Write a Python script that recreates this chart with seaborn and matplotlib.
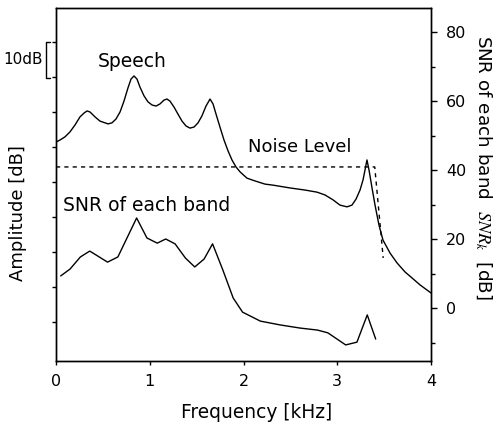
import numpy as np
import pandas as pd
import seaborn as sns
import matplotlib
matplotlib.use("Agg")
import matplotlib.pyplot as plt
from matplotlib.ticker import MultipleLocator

# Speech spectrum envelope (amplitude, left axis, dB)
speech_freq = [0.000, 0.043, 0.096, 0.149, 0.203, 0.256, 0.299, 0.331, 0.363,
               0.416, 0.469, 0.523, 0.555, 0.597, 0.640, 0.683, 0.725, 0.768,
               0.800, 0.832, 0.864, 0.896, 0.939, 0.981, 1.024, 1.067, 1.109,
               1.152, 1.184, 1.216, 1.259, 1.301, 1.344, 1.387, 1.429, 1.472,
               1.515, 1.557, 1.600, 1.643, 1.675, 1.707, 1.749, 1.792, 1.835,
               1.877, 1.920, 1.963, 2.037, 2.123, 2.229, 2.315, 2.496, 2.656,
               2.784, 2.869, 2.955, 3.029, 3.104, 3.157, 3.200, 3.243, 3.275,
               3.296, 3.317, 3.339, 3.371, 3.403, 3.445, 3.488, 3.563, 3.637,
               3.723, 3.797, 3.883, 4.000]
speech_amp = [51.4, 52.0, 52.9, 54.3, 56.3, 58.6, 59.7, 60.3, 60.0,
              58.6, 57.4, 56.9, 56.6, 56.9, 58.0, 60.0, 63.1, 66.9,
              69.4, 70.3, 69.4, 67.1, 64.6, 62.9, 62.0, 61.7, 62.3,
              63.4, 63.7, 63.1, 61.4, 59.4, 57.4, 56.0, 55.4, 55.7,
              56.9, 58.9, 61.7, 63.7, 62.3, 59.4, 55.7, 52.0, 48.9,
              46.3, 44.3, 42.9, 41.1, 40.3, 39.4, 39.1, 38.3, 37.7,
              37.1, 36.3, 34.9, 33.4, 32.9, 33.4, 35.1, 37.7, 40.6,
              43.4, 46.3, 43.4, 38.3, 33.4, 27.7, 23.4, 19.7, 16.9,
              14.3, 12.6, 10.6, 8.3]

# Noise level (left axis, dB)
noise_freq = [0.00, 3.40, 3.49]
noise_amp = [44.3, 44.3, 18.3]

# Band-wise SNR (right axis, dB)
snr_freq = [0.05, 0.15, 0.26, 0.36, 0.55, 0.66, 0.86, 0.97, 1.08, 1.17,
            1.27, 1.38, 1.48, 1.58, 1.67, 1.78, 1.89, 1.99, 2.18, 2.39,
            2.60, 2.79, 2.90, 3.09, 3.21, 3.32, 3.41]
snr_db = [9.3, 11.3, 14.8, 16.5, 13.3, 14.8, 26.1, 20.3, 18.8, 20.0,
          18.6, 14.5, 11.9, 14.2, 18.6, 11.0, 2.9, -1.2, -3.8, -4.9,
          -5.8, -6.4, -7.2, -10.7, -9.9, -2.0, -9.0]

x_ticks = [0, 1, 2, 3, 4]
snr_ticks = [0, 20, 40, 60, 80]

sns.set_style("ticks")
plt.rcParams["font.family"] = ["DejaVu Sans"]
plt.rcParams["mathtext.fontset"] = "stix"
plt.rcParams["text.color"] = "black"
plt.rcParams["xtick.color"] = "black"
plt.rcParams["ytick.color"] = "black"
plt.rcParams["xtick.labelcolor"] = "black"
plt.rcParams["ytick.labelcolor"] = "black"

fig = plt.figure(figsize=(4.96, 4.22), dpi=100)
ax = fig.add_axes([56 / 496, 1 - 361 / 422, 375 / 496, 353 / 422])
ax2 = ax.twinx()

speech = pd.DataFrame({"f": speech_freq, "a": speech_amp})
noise = pd.DataFrame({"f": noise_freq, "a": noise_amp})
snr = pd.DataFrame({"f": snr_freq, "s": snr_db})

sns.lineplot(data=speech, x="f", y="a", ax=ax, color="black", lw=1.0,
             sort=False, estimator=None)
sns.lineplot(data=noise, x="f", y="a", ax=ax, color="black", lw=1.0,
             sort=False, estimator=None, linestyle=(0, (3, 3)))
sns.lineplot(data=snr, x="f", y="s", ax=ax2, color="black", lw=1.0,
             sort=False, estimator=None)

ax.set_xlim(0, 4)
ax.set_ylim(-11.14, 89.71)
ax2.set_ylim(-15.36, 86.96)

ax.set_xticks(x_ticks)
ax.set_yticks(np.arange(0, 81, 10))
ax.set_yticklabels([])
ax2.set_yticks(snr_ticks)
ax2.yaxis.set_minor_locator(MultipleLocator(10))

ax.set_xlabel("")
ax.set_ylabel("")
ax2.set_ylabel("")

for a in (ax, ax2):
    for s in a.spines.values():
        s.set_linewidth(1.0)
        s.set_color("black")
        s.set_visible(True)
ax.tick_params(axis="x", direction="out", length=3, width=1, labelsize=11.5,
               pad=6, colors="black")
ax.tick_params(axis="y", direction="out", length=3, width=1, colors="black")
ax2.tick_params(axis="y", which="major", direction="out", length=4, width=1,
                labelsize=11.5, pad=7, colors="black")
ax2.tick_params(axis="y", which="minor", direction="out", length=3, width=1,
                colors="black")

# Labels inside the plot
ax.text(0.45, 74.3, "Speech", fontsize=13.5, ha="left", va="center",
        color="black")
ax.text(2.05, 50.0, "Noise Level", fontsize=13, ha="left", va="center",
        color="black")
ax.text(0.07, 33.4, "SNR of each band", fontsize=13.5, ha="left",
        va="center", color="black")

# Axis titles
fig.text(18 / 496, 1 - 213 / 422, "Amplitude [dB]", rotation=90,
         fontsize=13, ha="center", va="center", color="black")
fig.text(257 / 496, 1 - 412 / 422, "Frequency [kHz]", fontsize=13.4,
         ha="center", va="center", color="black")
fig.text(484 / 496, 1 - 167 / 422,
         r"SNR of each band  $SNR_k$  [dB]", rotation=270,
         fontsize=13.2, ha="center", va="center", color="black")

# 10 dB scale bracket
fig.text(23 / 496, 1 - 60 / 422, "10dB", fontsize=11, ha="center",
         va="center", color="black")
bx0, bx1 = 46 / 496, 50 / 496
by0, by1 = 1 - 42 / 422, 1 - 78 / 422
fig.add_artist(plt.Line2D([bx1, bx0, bx0, bx1], [by0, by0, by1, by1],
                          color="black", lw=1.0, transform=fig.transFigure))

fig.savefig("out.png", dpi=100)
